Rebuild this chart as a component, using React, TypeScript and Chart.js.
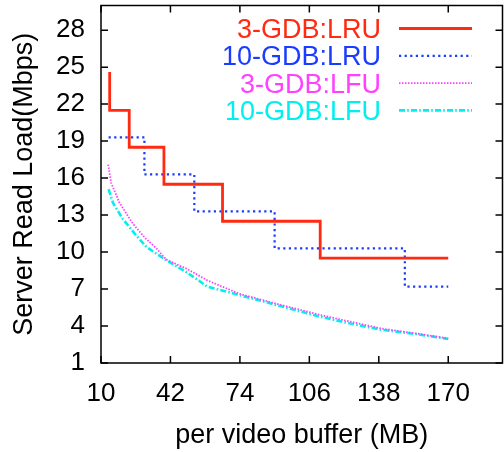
import React, { useEffect, useRef } from "react";
import { Chart, registerables } from "chart.js";

Chart.register(...registerables);

const xTicks = [10, 42, 74, 106, 138, 170];
const yTicks = [1, 4, 7, 10, 13, 16, 19, 22, 25, 28];

const seriesNames = ["3-GDB:LRU", "10-GDB:LRU", "3-GDB:LFU", "10-GDB:LFU"];

const xLRU3 = [14, 14, 23, 39, 66, 111, 170];
const yLRU3 = [24.6, 21.5, 18.5, 15.5, 12.5, 9.5, 9.5];

const xLRU10 = [13.5, 30, 53, 90, 150, 170];
const yLRU10 = [19.3, 16.3, 13.3, 10.3, 7.2, 7.2];

const xLFU3 = [13.3, 14.7, 18.5, 24.7, 30, 35.5, 40, 50, 59, 74, 91, 111, 125, 139, 155, 170];
const yLFU3 = [17.1, 15.6, 14.0, 12.3, 11.2, 10.3, 9.4, 8.6, 7.7, 6.6, 5.8, 4.9, 4.35, 3.8, 3.4, 3.0];

const xLFU10 = [13.5, 15.5, 20, 25.5, 31, 40, 50, 59, 74, 91, 111, 125, 139, 155, 170];
const yLFU10 = [15.1, 14.0, 12.7, 11.5, 10.4, 9.35, 8.3, 7.2, 6.5, 5.7, 4.75, 4.2, 3.7, 3.35, 2.95];

const FONT = "'Liberation Sans', Arial, Helvetica, sans-serif";

const zip = (xs: number[], ys: number[]) => xs.map((x, i) => ({ x, y: ys[i] }));

const frameAndLegend = {
  id: "frameAndLegend",
  afterDatasetsDraw(chart: any) {
    const ctx = chart.ctx;
    const { left, right, top, bottom } = chart.chartArea;
    const xs = chart.scales.x;
    const ys = chart.scales.y;
    ctx.save();
    ctx.strokeStyle = "#000";
    ctx.lineWidth = 1.5;
    ctx.setLineDash([]);
    ctx.strokeRect(left, top, right - left, bottom - top);
    const tl = 7;
    ctx.beginPath();
    xTicks.forEach((v) => {
      const px = xs.getPixelForValue(v);
      ctx.moveTo(px, bottom);
      ctx.lineTo(px, bottom - tl);
      ctx.moveTo(px, top);
      ctx.lineTo(px, top + tl);
    });
    yTicks.forEach((v) => {
      const py = ys.getPixelForValue(v);
      ctx.moveTo(left, py);
      ctx.lineTo(left + tl, py);
      ctx.moveTo(right, py);
      ctx.lineTo(right - tl, py);
    });
    ctx.stroke();

    // legend
    const textRight = right - 121.5;
    const lineStart = right - 103.5;
    const lineEnd = right - 30.5;
    ctx.font = `27px ${FONT}`;
    ctx.textAlign = "right";
    ctx.textBaseline = "alphabetic";
    chart.data.datasets.forEach((ds: any, i: number) => {
      const baseline = top + 32.5 + i * 27.3;
      ctx.fillStyle = ds.borderColor;
      ctx.fillText(ds.label, textRight, baseline);
      const ly = baseline - 9.5;
      ctx.beginPath();
      ctx.strokeStyle = ds.borderColor;
      ctx.lineWidth = ds.borderWidth;
      ctx.setLineDash(ds.borderDash || []);
      ctx.moveTo(lineStart, ly);
      ctx.lineTo(lineEnd, ly);
      ctx.stroke();
    });
    ctx.restore();
  },
};

export default function App() {
  const ref = useRef<HTMLCanvasElement>(null);
  useEffect(() => {
    document.body.style.margin = "0";
    const canvas = ref.current!;
    const chart = new Chart(canvas, {
      type: "line",
      data: {
        datasets: [
          {
            label: seriesNames[0],
            data: zip(xLRU3, yLRU3),
            borderColor: "#ff2a10",
            borderWidth: 2.8,
            stepped: "before",
            pointRadius: 0,
            fill: false,
          },
          {
            label: seriesNames[1],
            data: zip(xLRU10, yLRU10),
            borderColor: "#1a3cff",
            borderWidth: 2.2,
            borderDash: [2.2, 3.4],
            stepped: "before",
            pointRadius: 0,
            fill: false,
          },
          {
            label: seriesNames[2],
            data: zip(xLFU3, yLFU3),
            borderColor: "#ff40ff",
            borderWidth: 1.8,
            borderDash: [1.5, 1.5],
            tension: 0,
            pointRadius: 0,
            fill: false,
          },
          {
            label: seriesNames[3],
            data: zip(xLFU10, yLFU10),
            borderColor: "#00f0f0",
            borderWidth: 2.6,
            borderDash: [6, 2.2, 1.6, 2.2],
            tension: 0,
            pointRadius: 0,
            fill: false,
          },
        ],
      },
      options: {
        animation: false,
        responsive: false,
        devicePixelRatio: 1,
        layout: { padding: { left: 0, top: 5.5, right: 1.5, bottom: 0 } },
        plugins: { legend: { display: false }, tooltip: { enabled: false } },
        scales: {
          x: {
            type: "linear",
            min: 10,
            max: 195,
            afterBuildTicks: (s: any) => {
              s.ticks = xTicks.map((v) => ({ value: v }));
            },
            afterFit: (s: any) => {
              s.height = 89;
              s.paddingLeft = 0;
              s.paddingRight = 0;
            },
            grid: { display: false, drawTicks: false },
            border: { display: false },
            ticks: {
              color: "#000",
              padding: 15,
              maxRotation: 0,
              autoSkip: false,
              font: { family: FONT, size: 26 },
            },
            title: {
              display: true,
              text: "per video buffer (MB)",
              color: "#000",
              font: { family: FONT, size: 27 },
              padding: { top: 8, bottom: 0 },
            },
          },
          y: {
            type: "linear",
            min: 1,
            max: 30,
            afterBuildTicks: (s: any) => {
              s.ticks = yTicks.map((v) => ({ value: v }));
            },
            afterFit: (s: any) => {
              s.width = 101;
              s.paddingTop = 0;
              s.paddingBottom = 0;
            },
            grid: { display: false, drawTicks: false },
            border: { display: false },
            ticks: {
              color: "#000",
              padding: 16,
              autoSkip: false,
              font: { family: FONT, size: 26 },
            },
            title: {
              display: true,
              text: "Server Read Load(Mbps)",
              color: "#000",
              font: { family: FONT, size: 27 },
              padding: { top: 8, bottom: 0 },
            },
          },
        },
      },
      plugins: [frameAndLegend],
    });
    return () => chart.destroy();
  }, []);
  return <canvas ref={ref} width={504} height={452} style={{ display: "block" }} />;
}
